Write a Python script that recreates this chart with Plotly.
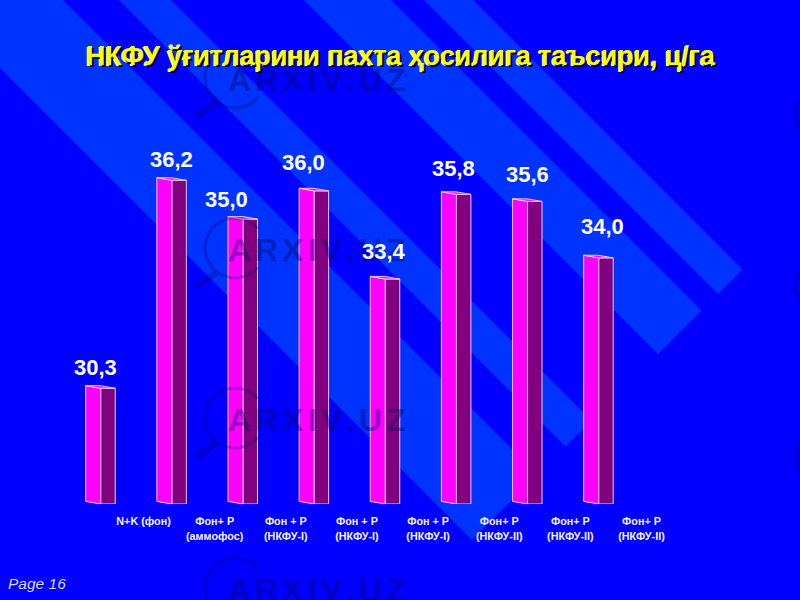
import numpy as np
import plotly.graph_objects as go

# --- data ---
categories = ["N+K (фон)", "Фон+ Р<br>(аммофос)", "Фон + Р<br>(НКФУ-I)", "Фон + Р<br>(НКФУ-I)",
              "Фон + Р<br>(НКФУ-I)", "Фон+ Р<br>(НКФУ-II)", "Фон+ Р<br>(НКФУ-II)", "Фон+ Р<br>(НКФУ-II)"]
bar_heights = [30.3, 36.2, 35.1, 35.9, 33.4, 35.8, 35.6, 34.0]
value_labels = ["30,3", "36,2", "35,0", "36,0", "33,4", "35,8", "35,6", "34,0"]
title_text = "НКФУ ўғитларини пахта ҳосилига таъсири, ц/га"

# --- layout constants ---
W, H = 800, 600
PLOT_TOP, PLOT_BOTTOM = 100, 504
PX_PER_UNIT_Y = 35.25
PX_PER_CAT = 71.14
X0_PX = 100.7
Y_BASE = 27 - 2 / PX_PER_UNIT_Y
label_centers_px = [(95, 368), (171, 159), (226.5, 199), (303, 162), (383.5, 251), (453, 168), (527.5, 174), (602, 227)]
stripes = [(-68, 63), (119, 171), (304, 391), (424, 473)]
STRIPE_END = 1012


def xp(x):
    return x / W


def yp(y):
    return (PLOT_BOTTOM - y) / (PLOT_BOTTOM - PLOT_TOP)


fw = 15 / PX_PER_CAT
sw = 14.5 / PX_PER_CAT
d = 2.6 / PX_PER_UNIT_Y

fx, fy, sx, sy, tx, ty = [], [], [], [], [], []
for i, v in enumerate(bar_heights):
    fx += [i - fw, i, i, i - fw, i - fw, None]
    fy += [v, v - d, Y_BASE, Y_BASE + d, v, None]
    sx += [i, i + sw, i + sw, i, i, None]
    sy += [v - d, v - d, Y_BASE, Y_BASE, v - d, None]
    tx += [i - fw, i - fw + sw, i + sw, i, i - fw, None]
    ty += [v, v, v - d, v - d, v, None]

fig = go.Figure()
edge = "#ecc8ec"
for xs, ys, col in ((sx, sy, "#800080"), (fx, fy, "#ff00ff"), (tx, ty, "#ff00ff")):
    fig.add_trace(go.Scatter(x=xs, y=ys, mode="lines", fill="toself", fillcolor=col,
                             line=dict(color=edge, width=1), showlegend=False, hoverinfo="skip"))

shapes = []
for c0, c1 in stripes:
    # band between lines x-y=c0 and x-y=c1, from the top-left to the line x+y=STRIPE_END
    if c0 < 0:
        pts = [(0, 0), (c1, 0), ((STRIPE_END + c1) / 2, (STRIPE_END - c1) / 2),
               ((STRIPE_END + c0) / 2, (STRIPE_END - c0) / 2), (0, -c0)]
    else:
        pts = [(c0, 0), (c1, 0), ((STRIPE_END + c1) / 2, (STRIPE_END - c1) / 2),
               ((STRIPE_END + c0) / 2, (STRIPE_END - c0) / 2)]
    path = "M " + " L ".join(f"{xp(a):.5f},{yp(b):.5f}" for a, b in pts) + " Z"
    shapes.append(dict(type="path", path=path, xref="paper", yref="paper", layer="below",
                       fillcolor="#0033ff", line=dict(width=0)))

wm = "rgba(0,0,90,0.28)"
wm_text = "rgba(0,0,90,0.38)"
annotations = []
letters = "ARXIV.UZ"
advances = [.722, .722, .667, .278, .667, .278, .722, .611]
WM_SIZE = 32
for cy in (78, 248, 418, 588):
    ang = np.radians(np.arange(40, 321, 10))
    ax = 235 + 30 * np.cos(ang)
    ay = cy - 30 * np.sin(ang)
    path = "M " + " L ".join(f"{xp(a):.5f},{yp(b):.5f}" for a, b in zip(ax, ay))
    shapes.append(dict(type="path", path=path, xref="paper", yref="paper", layer="above",
                       line=dict(color=wm, width=3)))
    shapes.append(dict(type="line", xref="paper", yref="paper", layer="above",
                       x0=xp(196), y0=yp(cy + 39), x1=xp(216), y1=yp(cy + 25),
                       line=dict(color=wm, width=6)))
    pos = 226.0
    for ch, adv in zip(letters, advances):
        annotations.append(dict(text=f"<b>{ch}</b>", xref="paper", yref="paper", x=xp(pos), y=yp(cy + 2),
                                xanchor="left", yanchor="middle", showarrow=False,
                                font=dict(family="Liberation Sans", size=WM_SIZE, color=wm_text)))
        pos += adv * WM_SIZE + 4.1
for cy in (116, 286, 456, 626):
    shapes.append(dict(type="circle", xref="paper", yref="paper", layer="above",
                       x0=xp(796), x1=xp(856), y0=yp(cy - 30), y1=yp(cy + 30),
                       line=dict(color=wm, width=3)))

for (cx, cy), lab in zip(label_centers_px, value_labels):
    annotations.append(dict(text=f"<b>{lab}</b>", xref="paper", yref="paper", x=xp(cx), y=yp(cy),
                            xanchor="center", yanchor="middle", showarrow=False,
                            font=dict(family="Liberation Sans", size=22, color="white")))

for dx, dy, col in ((-1, 1, "#ffffff"), (2, 2, "#000038"), (0, 0, "#ffff00")):
    annotations.append(dict(text=f"<b>{title_text}</b>", xref="paper", yref="paper",
                            x=xp(400.5 + dx), y=yp(56 + dy), xanchor="center", yanchor="middle",
                            showarrow=False,
                            font=dict(family="Liberation Sans", size=26.8, color=col)))

annotations.append(dict(text="<i>Page 16</i>", xref="paper", yref="paper", x=xp(6), y=yp(583),
                        xanchor="left", yanchor="middle", showarrow=False,
                        font=dict(family="Liberation Sans", size=15.5, color="#dcdcff")))

fig.update_layout(
    width=W, height=H, autosize=False,
    margin=dict(l=0, r=0, t=PLOT_TOP, b=H - PLOT_BOTTOM, pad=0),
    paper_bgcolor="#0000ff", plot_bgcolor="rgba(0,0,0,0)",
    shapes=shapes, annotations=annotations, showlegend=False,
    xaxis=dict(range=[-X0_PX / PX_PER_CAT, (W - X0_PX) / PX_PER_CAT],
               tickmode="array", tickvals=[i + 0.602 for i in range(8)],
               ticktext=[f"<b>{c.replace('<br>', '</b><br><b>')}</b>" for c in categories],
               tickangle=0, ticks="outside", ticklen=7.5, tickcolor="rgba(0,0,0,0)",
               tickfont=dict(family="Liberation Sans", size=10.8, color="#f4f4ff"),
               showgrid=False, zeroline=False, showline=False, automargin=False),
    yaxis=dict(range=[Y_BASE, Y_BASE + (PLOT_BOTTOM - PLOT_TOP) / PX_PER_UNIT_Y], visible=False,
               automargin=False),
)

fig.write_html("out.html", config={"displayModeBar": False},
               post_script="document.body.style.margin='0';")
